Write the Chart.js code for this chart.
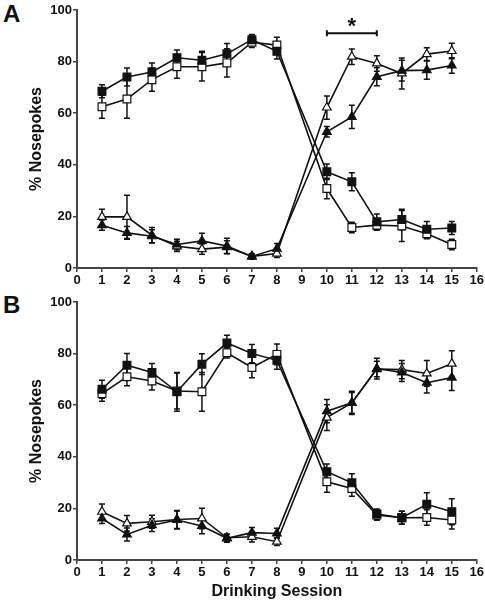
<!DOCTYPE html>
<html>
<head>
<meta charset="utf-8">
<script src="https://cdn.jsdelivr.net/npm/chart.js@4.4.1/dist/chart.umd.min.js"></script>
<style>
  body { margin: 0; background: #fff; width: 485px; height: 601px; overflow: hidden; position: relative; font-family: "Liberation Sans", Arial, sans-serif; }
  canvas { position: absolute; left: 0; }
  #chartA { top: 0; }
  #chartB { top: 290px; }
  .panel { position: absolute; left: 3px; font-weight: bold; font-size: 24px; line-height: 1; color: #111; }
</style>
</head>
<body>
<div class="panel" style="top:2px">A</div>
<div class="panel" style="top:293px">B</div>
<canvas id="chartA" width="485" height="290"></canvas>
<canvas id="chartB" width="485" height="311"></canvas>
<script>
// Sessions (no session 9)
const sessions = [1, 2, 3, 4, 5, 6, 7, 8, 10, 11, 12, 13, 14, 15];

// Panel A
const aFilledSq    = [68.5, 74, 76, 81.5, 80.5, 83, 88.5, 84, 37.3, 33.4, 17.9, 18.8, 15, 15.5];
const aFilledSqErr = [2.5, 3.5, 3.5, 3, 3.5, 4, 2, 3, 3, 3.5, 3, 4, 3, 2.5];
const aOpenSq      = [62.5, 65.5, 73, 78, 78, 79.5, 87.5, 86.4, 30.8, 15.7, 16.6, 16.3, 13.3, 9.1];
const aOpenSqErr   = [4.5, 7.5, 4.5, 4.5, 5.5, 5.5, 2, 3, 4, 2, 2, 6, 2, 2];
const aFilledTri   = [16.6, 13.6, 12.3, 9.1, 10.5, 8.5, 4.5, 7.5, 52.8, 58.6, 74.1, 76.5, 76.7, 78.5];
const aFilledTriErr= [2, 2.5, 2.5, 2, 3, 3, 1, 2, 2, 4.5, 3.5, 4, 3.5, 3];
const aOpenTri     = [19.8, 19.8, 12.7, 8.4, 7.3, 8.1, 4.5, 5.6, 62.2, 81.9, 79.3, 75.4, 82.9, 84.1];
const aOpenTriErr  = [3, 8.4, 3, 2, 2, 2.5, 1, 1.5, 4.5, 3, 3, 6, 2.5, 3];

// Panel B
const bFilledSq    = [66.2, 75.5, 72.7, 65.2, 75.9, 84.1, 80, 77.4, 34.2, 29.9, 17.8, 16.4, 21.6, 18.7];
const bFilledSqErr = [3.5, 4.5, 3.5, 7.5, 4, 3, 3.5, 3.5, 3, 3.5, 2, 2.5, 4.5, 5];
const bOpenSq      = [64.5, 71, 69.4, 65.5, 65.2, 80.3, 74.6, 79.7, 30.3, 27.7, 17.4, 16.4, 16.5, 15.5];
const bOpenSqErr   = [3, 3.5, 3.5, 7, 7.5, 2, 4, 4, 4, 3, 2, 2.5, 3, 3.5];
const bFilledTri   = [16.1, 9.9, 13.5, 15.5, 13.2, 8.4, 10.6, 10.3, 57.7, 60.9, 74.2, 72.7, 68.7, 70.7];
const bFilledTriErr= [2, 2.5, 2.5, 3.5, 3, 1.5, 2, 2, 4.5, 4.5, 4, 3.5, 4, 5];
const bOpenTri     = [18.7, 14.2, 14.8, 15.7, 16.1, 8.6, 9, 7.1, 55.2, 60.9, 74, 73.8, 72.3, 76.1];
const bOpenTriErr  = [3, 3, 2.5, 3.5, 4, 1.5, 2, 1.5, 5, 4, 3, 3.5, 5, 5];

// Significance bar in panel A (sessions 10-12)
const sigFrom = 10, sigTo = 12, sigLevel = 91, sigStarLevel = 95;

const INK = "#111";
const AXIS = "#444";
const FONT = "'Liberation Sans', Arial, sans-serif";

// error bars drawn under the markers
const errorBars = {
  id: "errorBars",
  beforeDatasetsDraw(chart) {
    const ctx = chart.ctx;
    const y = chart.scales.y;
    ctx.save();
    ctx.strokeStyle = INK;
    ctx.lineWidth = 1.5;
    chart.data.datasets.forEach((ds, i) => {
      const meta = chart.getDatasetMeta(i);
      meta.data.forEach((pt, j) => {
        const v = ds.data[j].y, e = ds.errors[j];
        const top = y.getPixelForValue(v + e);
        const bot = y.getPixelForValue(v - e);
        ctx.beginPath();
        ctx.moveTo(pt.x, top); ctx.lineTo(pt.x, bot);
        ctx.moveTo(pt.x - 3, top); ctx.lineTo(pt.x + 3, top);
        ctx.moveTo(pt.x - 3, bot); ctx.lineTo(pt.x + 3, bot);
        ctx.stroke();
      });
    });
    ctx.restore();
  }
};

const sigBar = {
  id: "sigBar",
  afterDatasetsDraw(chart, args, opts) {
    if (!opts || !opts.label) return;
    const { ctx, scales: { x, y } } = chart;
    const x1 = x.getPixelForValue(opts.from);
    const x2 = x.getPixelForValue(opts.to);
    const yy = y.getPixelForValue(opts.level);
    ctx.save();
    ctx.strokeStyle = INK;
    ctx.lineWidth = 2;
    ctx.beginPath();
    ctx.moveTo(x1, yy); ctx.lineTo(x2, yy);
    ctx.moveTo(x1, yy - 3); ctx.lineTo(x1, yy + 3);
    ctx.moveTo(x2, yy - 3); ctx.lineTo(x2, yy + 3);
    ctx.stroke();
    ctx.fillStyle = INK;
    ctx.font = "bold 22px " + FONT;
    ctx.textAlign = "center";
    ctx.textBaseline = "middle";
    ctx.fillText(opts.label, (x1 + x2) / 2, y.getPixelForValue(opts.starLevel) + 4);
    ctx.restore();
  }
};

function series(vals, errs, style, filled, radius) {
  return {
    data: sessions.map((s, i) => ({ x: s, y: vals[i] })),
    errors: errs,
    borderColor: INK,
    borderWidth: 1.6,
    pointStyle: style,
    pointRadius: radius,
    pointBackgroundColor: filled ? INK : "#fff",
    pointBorderColor: INK,
    pointBorderWidth: 1.2,
    tension: 0
  };
}

function makeChart(id, datasets, opt) {
  return new Chart(document.getElementById(id), {
    type: "line",
    data: { datasets },
    options: {
      responsive: false,
      animation: false,
      layout: { padding: { left: 0, right: 8, top: opt.top, bottom: 0 } },
      plugins: {
        legend: { display: false },
        tooltip: { enabled: false },
        sigBar: opt.sig || {}
      },
      scales: {
        x: {
          type: "linear",
          min: 0, max: 16,
          ticks: { stepSize: 1, autoSkip: false, color: INK, padding: 1, font: { family: FONT, weight: "bold", size: 13 } },
          grid: { drawOnChartArea: false, tickLength: 4, color: AXIS, lineWidth: 1.5 },
          border: { color: AXIS, width: 2 },
          title: { display: opt.xTitle, text: "Drinking Session", color: INK, padding: 0, font: { family: FONT, weight: "bold", size: 16 } },
          afterFit(s) { s.height = opt.xHeight; }
        },
        y: {
          min: 0, max: 100,
          ticks: { stepSize: 20, color: INK, padding: 1, font: { family: FONT, weight: "bold", size: 13 } },
          grid: { drawOnChartArea: false, tickLength: 4, color: AXIS, lineWidth: 1.5 },
          border: { color: AXIS, width: 2 },
          title: { display: true, text: "% Nosepokes", color: INK, padding: { top: 27, bottom: 0 }, font: { family: FONT, weight: "bold", size: 16 } },
          afterFit(s) { s.width = 77; }
        }
      }
    },
    plugins: [errorBars, sigBar]
  });
}

makeChart("chartA", [
  series(aFilledSq, aFilledSqErr, "rect", true, 5.5),
  series(aOpenSq, aOpenSqErr, "rect", false, 5.5),
  series(aFilledTri, aFilledTriErr, "triangle", true, 5),
  series(aOpenTri, aOpenTriErr, "triangle", false, 5)
], { top: 10, xHeight: 22, xTitle: false,
     sig: { from: sigFrom, to: sigTo, level: sigLevel, starLevel: sigStarLevel, label: "*" } });

makeChart("chartB", [
  series(bFilledSq, bFilledSqErr, "rect", true, 5.5),
  series(bOpenSq, bOpenSqErr, "rect", false, 5.5),
  series(bFilledTri, bFilledTriErr, "triangle", true, 5),
  series(bOpenTri, bOpenTriErr, "triangle", false, 5)
], { top: 12, xHeight: 41, xTitle: true });
</script>
</body>
</html>
